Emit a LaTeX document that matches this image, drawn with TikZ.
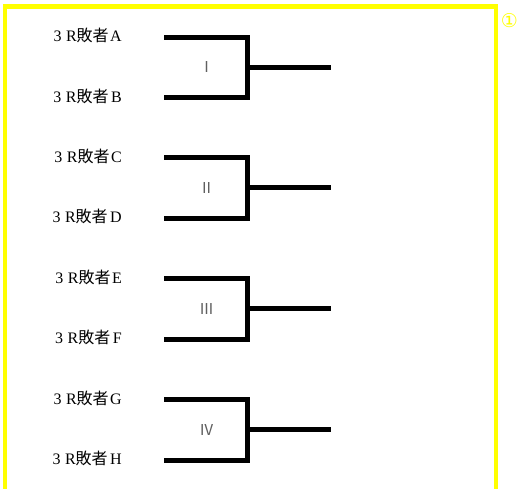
\documentclass[tikz,border=0pt]{standalone}
\usepackage{fontspec}
\setmainfont{Liberation Serif}
\newfontfamily\cjk{Noto Sans CJK JP}
\newfontfamily\symf{DejaVu Sans}
\definecolor{frameyellow}{HTML}{FFFF00}
\definecolor{numgray}{HTML}{606060}
\begin{document}
\begin{tikzpicture}[x=1pt,y=-1pt,
  bline/.style={line width=5pt,line cap=butt,line join=miter},
  lbl/.style={anchor=east,inner sep=0pt,font=\fontsize{16}{18}\selectfont},
  num/.style={inner sep=0pt,text=numgray,font=\cjk\fontsize{15}{17}\selectfont},
  framestyle/.style={draw=frameyellow,line width=4.5pt}]
\useasboundingbox (0,0) rectangle (517,488);
\fill[white] (0,0) rectangle (517,488);
% frame
\coordinate (fbl) at (5,490);
\coordinate (ftl) at (5,6.5);
\coordinate (ftr) at (496,6.5);
\coordinate (fbr) at (496,490);
\draw[framestyle] (fbl) -- (ftl) -- (ftr) -- (fbr);
\node[inner sep=0pt,text=frameyellow,font=\symf\fontsize{19}{21}\selectfont] (circ) at (509.5,20.5) {①};
% groups
\foreach \t/\b/\ta/\tb/\n/\name in {37/97.5/A/B/Ⅰ/g1, 157.5/218/C/D/Ⅱ/g2, 278.5/339/E/F/Ⅲ/g3, 399.5/460/G/H/Ⅳ/g4}{
  \pgfmathsetmacro{\m}{(\t+\b)/2}
  \node[lbl] (\name a) at (122,\t-1.5) {3\hspace{4.5pt}R{\cjk 敗者}\hspace{1.5pt}\ta};
  \node[lbl] (\name b) at (122,\b-1.5) {3\hspace{4.5pt}R{\cjk 敗者}\hspace{2.5pt}\tb};
  \coordinate (\name s1) at (164,\t);
  \coordinate (\name c1) at (247,\t);
  \coordinate (\name s2) at (164,\b);
  \coordinate (\name c2) at (247,\b);
  \coordinate (\name m) at (247,\m);
  \coordinate (\name e) at (331,\m);
  \draw[bline] (\name s1) -- (\name c1) -- (\name c2) -- (\name s2);
  \draw[bline] (\name m) -- (\name e);
  \node[num] (\name n) at (206.5,\m) {\n};
}
\end{tikzpicture}
\end{document}
